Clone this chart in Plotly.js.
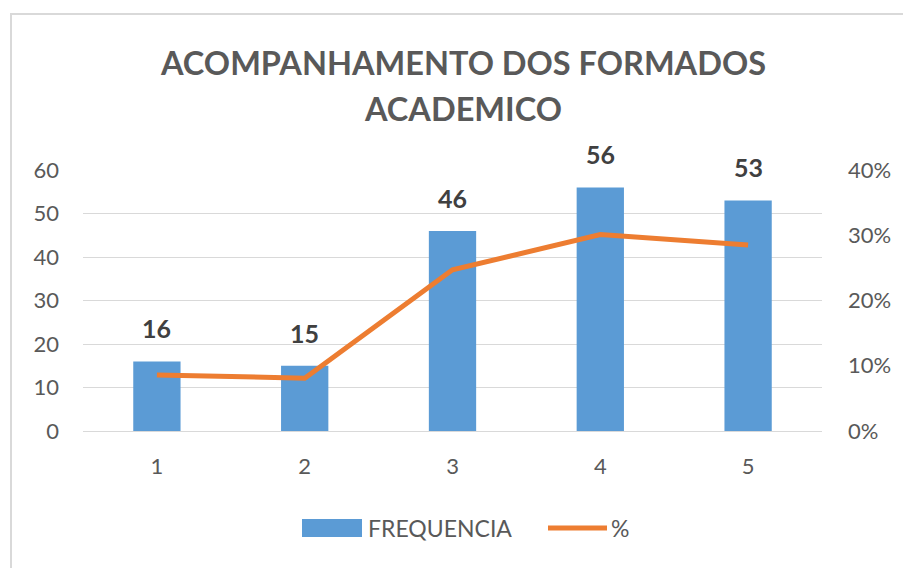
<!DOCTYPE html>
<html>
<head>
<meta charset="utf-8">
<script src="https://cdn.plot.ly/plotly-3.0.1.min.js"></script>
<style>
html,body{margin:0;padding:0;background:#fff;}
#chart{width:903px;height:568px;position:relative;}
#frame{position:absolute;left:10px;top:13px;width:900px;height:560px;border-left:2px solid #d9d9d9;border-top:2px solid #d9d9d9;pointer-events:none;}
</style>
</head>
<body>
<div id="chart"></div>
<div id="frame"></div>
<script>
var categories = ['1', '2', '3', '4', '5'];
var frequencia = [16, 15, 46, 56, 53];
var percent = [0.086, 0.081, 0.247, 0.301, 0.285];
var titleLines = ['ACOMPANHAMENTO DOS FORMADOS', 'ACADEMICO'];
var seriesNames = ['FREQUENCIA', '%'];
var leftTicks = [0, 10, 20, 30, 40, 50, 60];
var rightTicks = [0, 0.1, 0.2, 0.3, 0.4];
var rightTickText = ['0%', '10%', '20%', '30%', '40%'];

var fontFam = 'Lato, "Open Sans", "Liberation Sans", sans-serif';
var tickFont = {family: fontFam, size: 22, color: '#595959'};
var barColor = '#5b9bd5', lineColor = '#ed7d31';

var bars = {
  type: 'bar', name: seriesNames[0], x: categories, y: frequencia,
  marker: {color: barColor}, hoverinfo: 'skip', showlegend: false
};
var line = {
  type: 'scatter', mode: 'lines', name: seriesNames[1], x: categories, y: percent,
  yaxis: 'y2', line: {color: lineColor, width: 5}, hoverinfo: 'skip', showlegend: false
};

// paper coordinate helpers (plot area: x 83..822, y 170..431 in pixels)
function px(x){ return (x - 83) / 739; }
function py(y){ return (431 - y) / 261; }

var annotations = frequencia.map(function(v, i){
  return {x: i, y: v, xref: 'x', yref: 'y', text: '<b>' + v + '</b>',
    showarrow: false, yshift: 33, font: {family: fontFam, size: 25, color: '#404040'}};
});
annotations.push({xref: 'paper', yref: 'paper', x: px(463), y: py(62), yanchor: 'middle',
  text: '<b>' + titleLines[0] + '</b>', showarrow: false, font: {family: fontFam, size: 32.5, color: '#595959'}});
annotations.push({xref: 'paper', yref: 'paper', x: px(463), y: py(108), yanchor: 'middle',
  text: '<b>' + titleLines[1] + '</b>', showarrow: false, font: {family: fontFam, size: 32.5, color: '#595959'}});
// legend texts
annotations.push({xref: 'paper', yref: 'paper', x: px(366), y: py(528), xanchor: 'left', yanchor: 'middle',
  text: seriesNames[0], showarrow: false, font: {family: fontFam, size: 23, color: '#595959'}});
annotations.push({xref: 'paper', yref: 'paper', x: px(609), y: py(528), xanchor: 'left', yanchor: 'middle',
  text: seriesNames[1], showarrow: false, font: {family: fontFam, size: 23, color: '#595959'}});

var shapes = [
  {type: 'rect', xref: 'paper', yref: 'paper', x0: px(302), x1: px(362), y0: py(537), y1: py(519),
    fillcolor: barColor, line: {width: 0}},
  {type: 'line', xref: 'paper', yref: 'paper', x0: px(548), x1: px(607), y0: py(528), y1: py(528),
    line: {color: lineColor, width: 5}}
];

var layout = {
  width: 903, height: 568,
  margin: {l: 83, r: 81, t: 170, b: 137},
  paper_bgcolor: '#fff', plot_bgcolor: '#fff',
  bargap: 0.68,
  showlegend: false,
  xaxis: {type: 'category', tickfont: tickFont, showgrid: false, zeroline: false,
    showline: true, linecolor: '#d9d9d9', linewidth: 1, ticks: '', ticklabelstandoff: 16},
  yaxis: {range: [0, 60], tickvals: leftTicks, tickfont: tickFont, showgrid: true,
    gridcolor: '#d9d9d9', gridwidth: 1, zeroline: false, showline: false, ticklabelstandoff: 23},
  yaxis2: {range: [0, 0.4], overlaying: 'y', side: 'right', tickvals: rightTicks, ticktext: rightTickText,
    tickfont: tickFont, showgrid: false, zeroline: false, showline: false, ticklabelstandoff: 25},
  annotations: annotations,
  shapes: shapes
};

Plotly.newPlot('chart', [bars, line], layout, {displayModeBar: false, staticPlot: true});
</script>
</body>
</html>
